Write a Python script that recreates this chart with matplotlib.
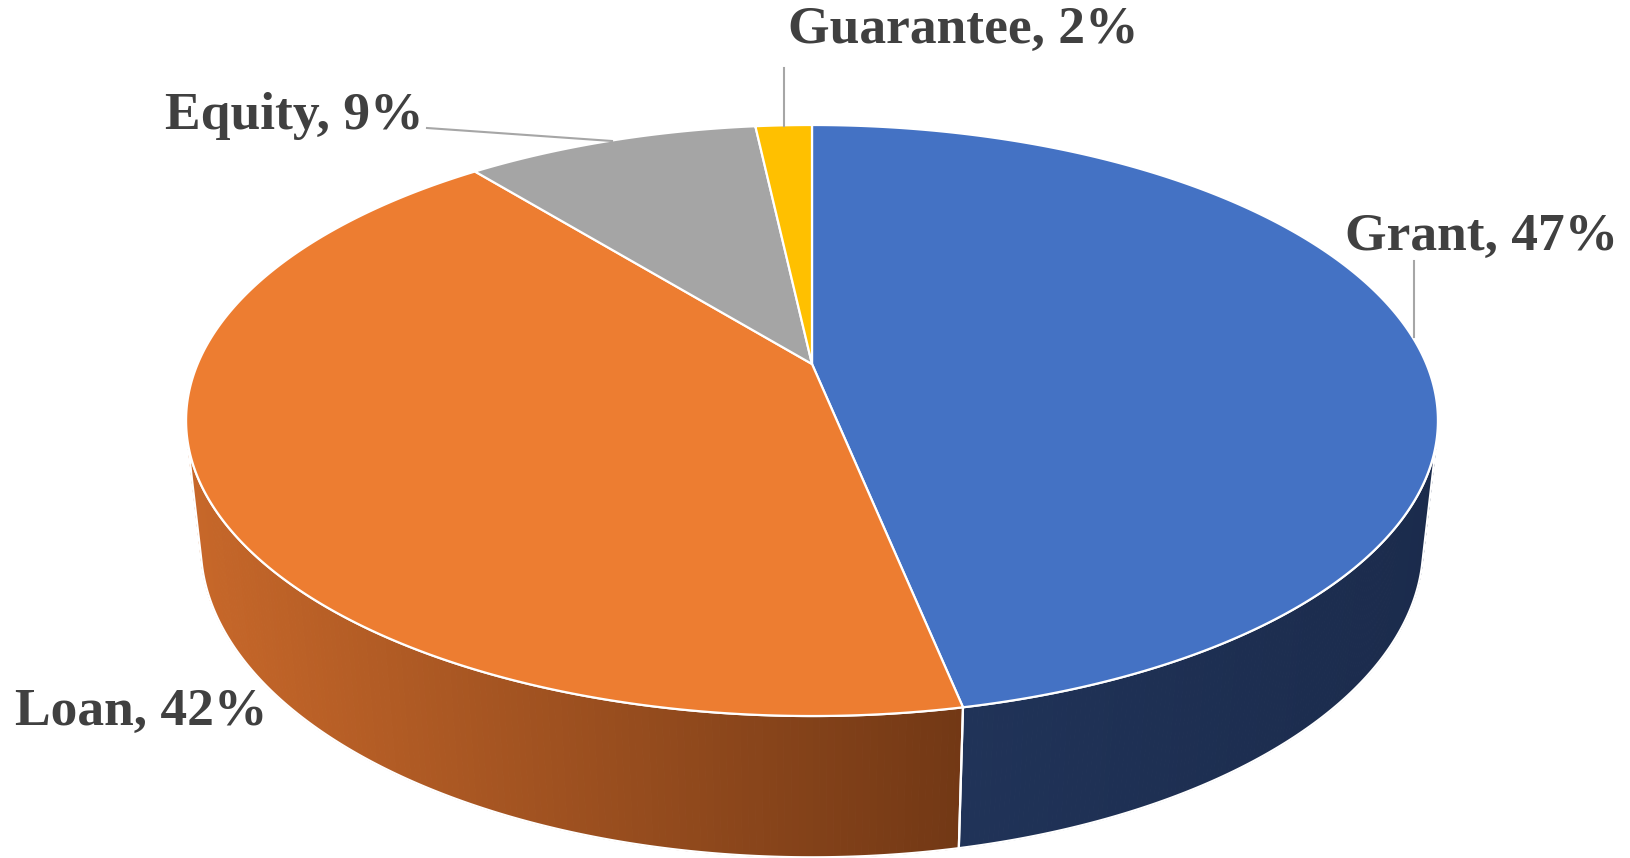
import numpy as np
import matplotlib
matplotlib.use("Agg")
import matplotlib.pyplot as plt
from matplotlib.patches import Polygon

# ---- data ----
categories = ["Grant", "Loan", "Equity", "Guarantee"]
values = [46.8, 42.35, 9.1, 1.75]
labels = ["Grant, 47%", "Loan, 42%", "Equity, 9%", "Guarantee, 2%"]
top_colors = ["#4472C4", "#ED7D31", "#A5A5A5", "#FFC000"]

# ---- geometry (3D pie with perspective) ----
W, H = 1630, 858
CX, CY = 812.0, 364.0
F = 2847.0
R = 0.2158
HGT = 0.0498
ALPHA = np.arcsin(0.4634)
ca, sa = np.cos(ALPHA), np.sin(ALPHA)


def proj(theta_deg, z):
    t = np.radians(theta_deg)
    X = R * np.sin(t)
    Y = R * np.cos(t)
    depth = Y * ca + 1.0 - z * sa
    w = Y * sa + z * ca
    return CX + F * X / depth, CY - F * w / depth


fig = plt.figure(figsize=(W / 100, H / 100), dpi=100)
ax = fig.add_axes([0, 0, 1, 1])
ax.set_xlim(0, W)
ax.set_ylim(H, 0)
ax.axis("off")

total = sum(values)
bounds = np.concatenate([[0], np.cumsum(values) / total * 360.0])

# front-facing wall range
lim = np.degrees(np.arccos(-R / ca))
front_lo, front_hi = lim, 360 - lim

wall_col = {
    0: ((32, 51, 88), (27, 43, 76), 963, 1438),
    1: ((200, 104, 42), (114, 56, 21), 186, 963),
}

for i in range(len(values)):
    a0, a1 = max(bounds[i], front_lo), min(bounds[i + 1], front_hi)
    if a1 <= a0:
        continue
    c_a, c_b, xa, xb = wall_col.get(i, ((80, 80, 80), (60, 60, 60), 0, W))
    n = 160
    th = np.linspace(a0, a1, n + 1)
    for j in range(n):
        t0, t1 = th[j], th[j + 1]
        p = [proj(t0, 0), proj(t1, 0), proj(t1, -HGT), proj(t0, -HGT)]
        xm = np.mean([q[0] for q in p])
        fr = np.clip((xm - xa) / (xb - xa), 0, 1)
        col = tuple((np.array(c_a) + (np.array(c_b) - np.array(c_a)) * fr) / 255.0)
        ax.add_patch(Polygon(p, closed=True, facecolor=col, edgecolor=col,
                             linewidth=0.8, zorder=2))
    # white outline of the wall piece
    tt = np.linspace(a0, a1, 200)
    top = [proj(t, 0) for t in tt]
    bot = [proj(t, -HGT) for t in tt[::-1]]
    ax.add_patch(Polygon(top + bot, closed=True, facecolor="none",
                         edgecolor="white", linewidth=1.6, zorder=3))

# top faces
for i in range(len(values)):
    tt = np.linspace(bounds[i], bounds[i + 1], 300)
    pts = [(CX, CY)] + [proj(t, 0) for t in tt]
    ax.add_patch(Polygon(pts, closed=True, facecolor=top_colors[i],
                         edgecolor="white", linewidth=1.6, zorder=4,
                         joinstyle="round"))

# leader lines
lc = "#A6A6A6"
ax.plot([784, 784], [68, 126], color=lc, lw=1.5, zorder=5)
ax.plot([427, 612], [128, 141], color=lc, lw=1.5, zorder=5)
ax.plot([1414, 1414], [261, 337], color=lc, lw=1.5, zorder=5)

# labels
fkw = dict(family="Liberation Serif", fontweight="bold", color="#404040",
           fontsize=38.5, va="baseline", ha="left", zorder=6)
ax.text(1345, 250, labels[0], **fkw)
ax.text(15, 725, labels[1], **fkw)
ax.text(165, 129, labels[2], **fkw)
ax.text(788, 43, labels[3], **fkw)

fig.savefig("out.png", dpi=100, facecolor="white")
